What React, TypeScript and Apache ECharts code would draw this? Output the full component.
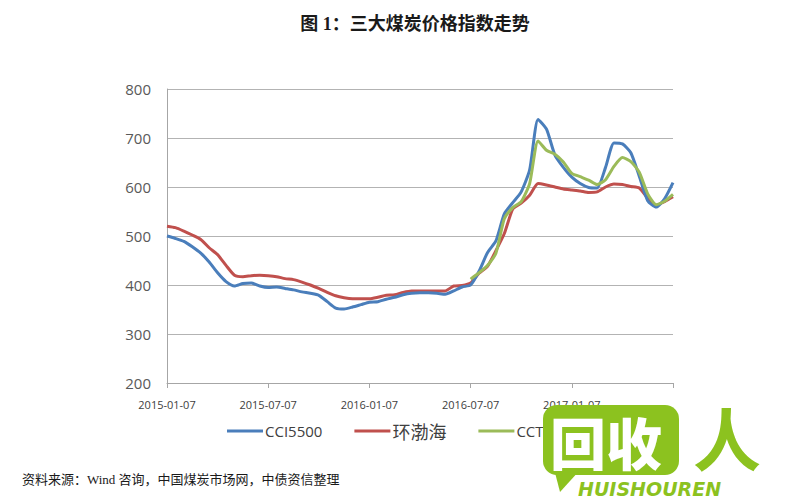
import React, { useEffect, useRef } from "react";
import * as echarts from "echarts";

// half-monthly categories from 2015-01-07 to 2017-07-07
const categories: string[] = [];
for (let k = 0; k <= 60; k++) {
  const m = Math.floor(k / 2);
  const y = 2015 + Math.floor(m / 12);
  const mm = (m % 12) + 1;
  categories.push(`${y}-${mm < 10 ? "0" + mm : mm}-${k % 2 === 0 ? "07" : "22"}`);
}

const cci5500 = [
  500, 495, 489, 478, 465, 447, 425, 407, 398, 403,
  404, 398, 395, 396, 393, 390, 386, 383, 379, 366,
  353, 351, 355, 360, 365, 366, 371, 375, 380, 383,
  384, 384, 383, 381, 388, 396, 400, 428, 466, 490,
  545, 568, 590, 635, 738, 718, 665, 640, 620, 607,
  599, 598, 640, 690, 688, 670, 622, 572, 559, 576,
  609,
];

const bohai = [
  520, 517, 510, 502, 493, 476, 462, 440, 420, 417,
  419, 420, 419, 417, 413, 411, 406, 400, 393, 385,
  378, 374, 372, 372, 372, 375, 379, 380, 385, 388,
  388, 388, 388, 388, 398, 399, 404, 424, 438, 470,
  505, 555, 567, 583, 607, 604, 600, 596, 594, 592,
  589, 590, 600, 606, 605, 601, 598, 577, 563, 570,
  580,
];

const cctd = [
  null, null, null, null, null, null, null, null, null, null,
  null, null, null, null, null, null, null, null, null, null,
  null, null, null, null, null, null, null, null, null, null,
  null, null, null, null, null, null, 412, 425, 440, 465,
  535, 558, 570, 607, 694, 675, 667, 651, 628, 621,
  614, 605, 615, 642, 660, 652, 630, 586, 564, 571,
  585,
];

const seriesNames = ["CCI5500", "环渤海", "CCTD5500"];
const seriesColors = ["#4a7ebb", "#c0504d", "#9bbb59"];

export default function App() {
  const ref = useRef<HTMLDivElement>(null);
  useEffect(() => {
    if (!ref.current) return;
    const chart = echarts.init(ref.current, null, { renderer: "svg" });
    const green = "#8cc21f";
    const datas = [cci5500, bohai, cctd];
    chart.setOption({
      animation: false,
      backgroundColor: "#ffffff",
      title: {
        text: "图 1：三大煤炭价格指数走势",
        left: 410,
        top: 10,
        textAlign: "center",
        textStyle: {
          fontFamily: "'Liberation Serif', 'Noto Sans CJK SC', serif",
          fontSize: 18,
          fontWeight: "bold",
          color: "#1a1a1a",
        },
      },
      legend: {
        bottom: 55,
        left: 222,
        icon: "rect",
        itemWidth: 36,
        itemHeight: 3,
        itemGap: 32,
        formatter: (name: string) => (/[\u4e00-\u9fff]/.test(name) ? `{cjk|${name}}` : name),
        textStyle: {
          fontFamily: "'Open Sans', 'Noto Sans CJK SC', sans-serif",
          fontSize: 15,
          color: "#404040",
          padding: [0, 0, 0, -3],
          rich: {
            cjk: {
              fontFamily: "'Noto Sans CJK SC', sans-serif",
              fontSize: 18,
              color: "#404040",
            },
          },
        },
        data: seriesNames,
      },
      grid: { left: 167, right: 127, top: 89, bottom: 117 },
      xAxis: {
        type: "category",
        data: categories,
        boundaryGap: false,
        axisLine: { lineStyle: { color: "#a6a6a6", width: 1 } },
        axisTick: {
          interval: (i: number) => i % 12 === 0,
          length: 5,
          lineStyle: { color: "#a6a6a6" },
        },
        axisLabel: {
          interval: (i: number) => i % 12 === 0 && i < 60,
          fontFamily: "'Open Sans', sans-serif",
          fontSize: 11,
          color: "#404040",
          margin: 16,
        },
        splitLine: { show: false },
      },
      yAxis: {
        type: "value",
        min: 200,
        max: 800,
        interval: 100,
        axisLine: { show: true, lineStyle: { color: "#a6a6a6" } },
        axisTick: { show: false },
        axisLabel: {
          fontFamily: "'Open Sans', sans-serif",
          fontSize: 15,
          color: "#595959",
          margin: 16,
        },
        splitLine: { lineStyle: { color: "#b3b3b3", width: 1 } },
      },
      series: seriesNames.map((name, idx) => ({
        name,
        type: "line",
        data: datas[idx],
        showSymbol: false,
        symbol: "none",
        smooth: 0.2,
        connectNulls: false,
        lineStyle: { width: 3, color: seriesColors[idx] },
        itemStyle: { color: seriesColors[idx] },
        z: idx === 2 ? 3 : idx === 0 ? 2 : 1,
      })),
      graphic: [
        {
          type: "text",
          left: 22,
          top: 473,
          style: {
            text: "资料来源：Wind 咨询，中国煤炭市场网，中债资信整理",
            fontFamily: "'Liberation Serif', 'Noto Sans CJK SC', serif",
            fontSize: 13,
            fill: "#1a1a1a",
          },
        },
        {
          type: "group",
          z: 100,
          children: [
            {
              type: "rect",
              shape: { x: 543, y: 405, width: 136, height: 70, r: 14 },
              style: { fill: green },
              z: 100,
            },
            {
              type: "polygon",
              shape: { points: [[553, 465], [580, 470], [560, 492]] },
              style: { fill: green },
              z: 100,
            },
            {
              type: "text",
              x: 550,
              y: 412,
              style: {
                text: "回收",
                fontFamily: "'Noto Sans CJK SC', sans-serif",
                fontSize: 56,
                fontWeight: 900,
                fill: "#ffffff",
              },
              z: 101,
            },
            {
              type: "text",
              x: 693,
              y: 402,
              style: {
                text: "人",
                fontFamily: "'Noto Sans CJK SC', sans-serif",
                fontSize: 68,
                fontWeight: 700,
                fill: green,
              },
              z: 101,
            },
            {
              type: "text",
              x: 578,
              y: 479,
              style: {
                text: "HUISHOUREN",
                fontFamily: "'DejaVu Sans', sans-serif",
                fontSize: 19,
                fontWeight: "bold",
                fontStyle: "italic",
                fill: green,
              },
              z: 101,
            },
          ],
        },
      ],
    });
    return () => chart.dispose();
  }, []);
  return <div ref={ref} style={{ width: 800, height: 500, position: "absolute", left: 0, top: 0 }} />;
}
